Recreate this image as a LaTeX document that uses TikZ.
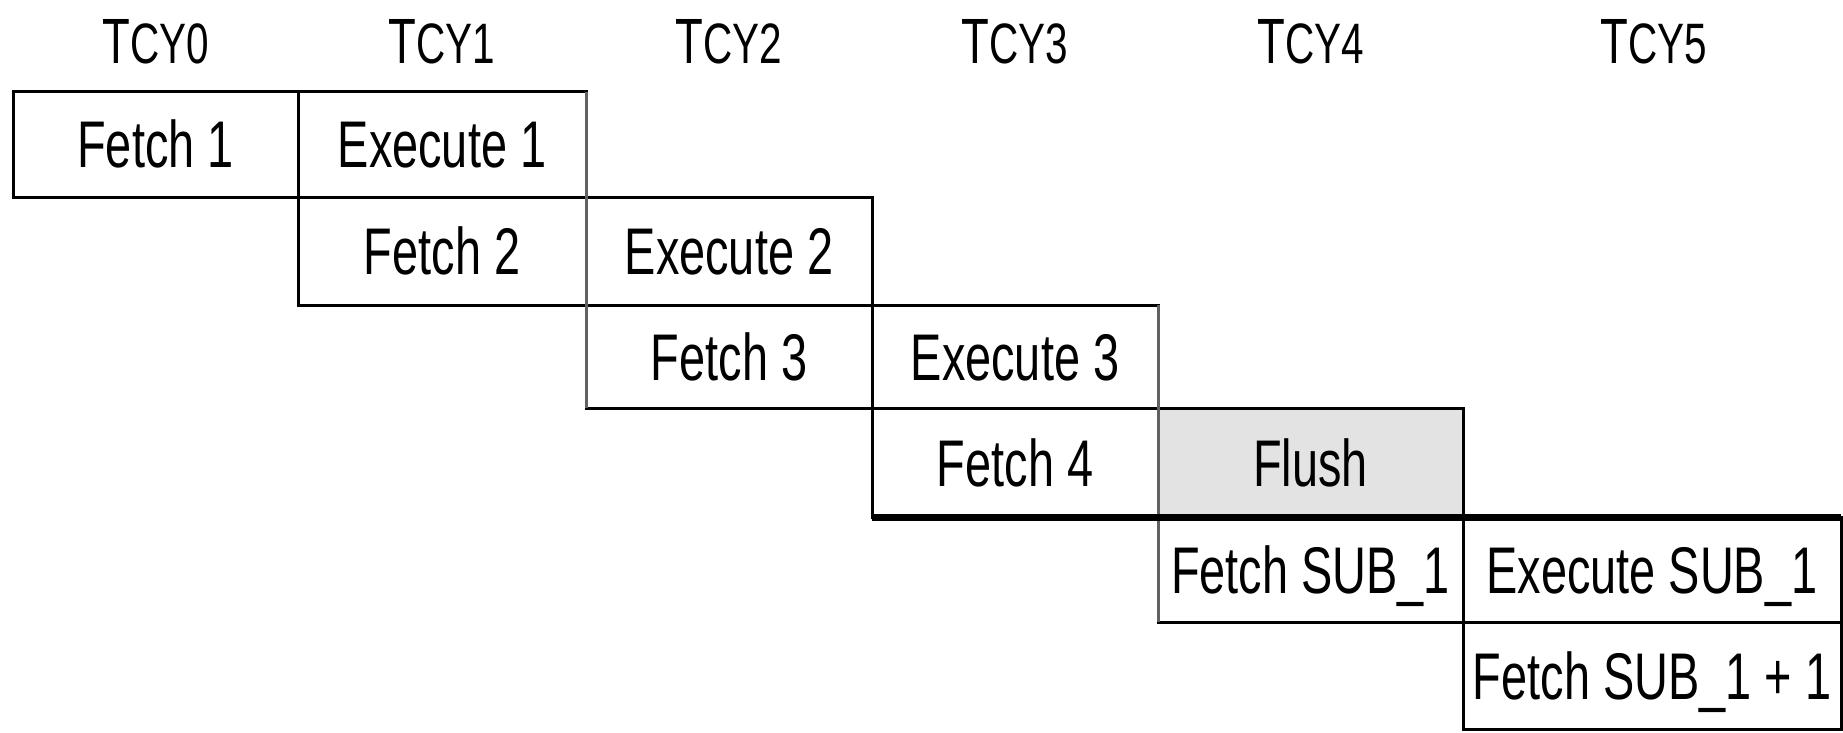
\documentclass[tikz,border=0pt]{standalone}
\usepackage{fontspec}
\setmainfont[FakeStretch=0.71]{Liberation Sans}
\begin{document}
\begin{tikzpicture}[x=1pt,y=-1pt,
  cell/.style={draw=black, line width=3pt, rectangle, inner sep=0pt, outer sep=0pt,
    anchor=north west, text height=47pt, text depth=0pt,
    font=\fontsize{66}{70}\selectfont},
  hdr/.style={inner sep=0pt, anchor=base, font=\fontsize{64}{70}\selectfont},
  sep/.style={line width=3pt, draw=black!62},
  flushfill/.style={fill=black!11}]
\useasboundingbox (0,0) rectangle (1843,732);
% cycle headers
\newcommand{\cyc}[1]{T{\fontsize{57}{60}\selectfont CY#1}}
\node[hdr] (t0) at (155.5,63) {\cyc{0}};
\node[hdr] (t1) at (442,63) {\cyc{1}};
\node[hdr] (t2) at (729,63) {\cyc{2}};
\node[hdr] (t3) at (1015,63) {\cyc{3}};
\node[hdr] (t4) at (1310.5,63) {\cyc{4}};
\node[hdr] (t5) at (1654,63) {\cyc{5}};
% pipeline cells
\node[cell, minimum width=285pt, minimum height=105.5pt] (f1) at (13,91.5) {Fetch 1};
\node[cell, minimum width=288pt, minimum height=105.5pt] (e1) at (298,91.5) {Execute 1};
\node[cell, minimum width=288pt, minimum height=108pt] (f2) at (298,197) {Fetch 2};
\node[cell, minimum width=286pt, minimum height=108pt] (e2) at (586,197) {Execute 2};
\node[cell, minimum width=286pt, minimum height=103pt] (f3) at (586,305) {Fetch 3};
\node[cell, minimum width=286pt, minimum height=103pt] (e3) at (872,305) {Execute 3};
\node[cell, minimum width=286pt, minimum height=109pt] (f4) at (872,408) {Fetch 4};
\node[cell, flushfill, minimum width=305pt, minimum height=109pt] (fl) at (1158,408) {Flush};
\node[cell, minimum width=305pt, minimum height=105pt] (fs) at (1158,517) {Fetch SUB\_1};
\node[cell, minimum width=378pt, minimum height=105pt] (es) at (1463,517) {Execute SUB\_1};
\node[cell, minimum width=378pt, minimum height=107pt] (fn) at (1463,622) {Fetch SUB\_1 + 1};
% lighter column rules
\draw[sep] (e1.north east) -- (f3.south west);
\draw[sep] (e3.north east) -- (fs.south west);
% heavy rule at the branch
\draw[line width=7pt] (f4.south west) -- (es.north east);
\end{tikzpicture}
\end{document}
